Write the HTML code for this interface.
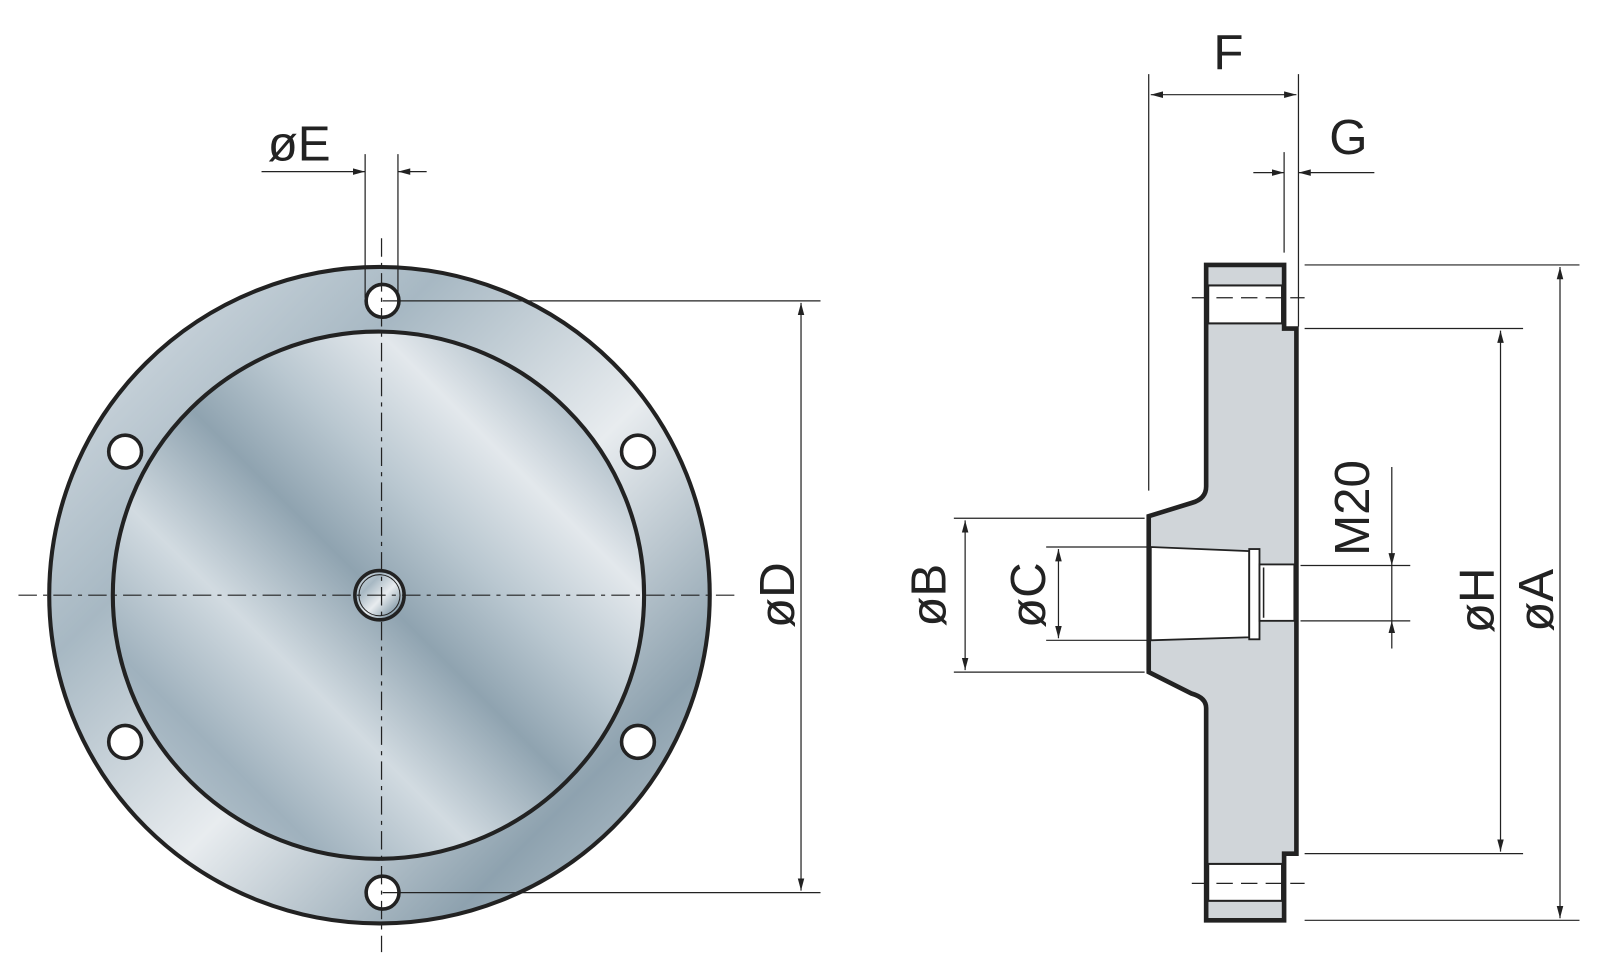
<!DOCTYPE html>
<html><head><meta charset="utf-8"><style>html,body{margin:0;padding:0;background:#fff}svg{display:block}</style></head>
<body>
<svg width="1600" height="975" viewBox="0 0 1560 950" xmlns="http://www.w3.org/2000/svg" font-family="Liberation Sans, sans-serif">
<defs>
<linearGradient id="g" x1="0" y1="1" x2="1" y2="0">
<stop offset="0" stop-color="#c9d4dc"/><stop offset="0.2" stop-color="#9fb1bd"/><stop offset="0.35" stop-color="#d2dbe1"/>
<stop offset="0.5" stop-color="#8fa3b0"/><stop offset="0.62" stop-color="#b9c7d0"/><stop offset="0.75" stop-color="#e3e8ec"/>
<stop offset="0.88" stop-color="#a9b9c4"/><stop offset="1" stop-color="#d8e0e5"/></linearGradient>
<linearGradient id="g2" x1="0" y1="0" x2="1" y2="1">
<stop offset="0" stop-color="#dfe5ea"/><stop offset="0.3" stop-color="#a7b8c3"/><stop offset="0.55" stop-color="#e8ecef"/><stop offset="0.8" stop-color="#8ea2af"/><stop offset="1" stop-color="#c6d1d9"/></linearGradient>
<marker id="ar" viewBox="0 0 12 10" refX="12" refY="5" markerWidth="12" markerHeight="10" markerUnits="userSpaceOnUse" orient="auto-start-reverse"><path d="M0,1.8 L12,5 L0,8.2z" fill="#222"/></marker>
</defs>
<g stroke="#222" fill="none">
<ellipse cx="370" cy="580" rx="322" ry="320" fill="url(#g2)" stroke-width="4"/>
<ellipse cx="369" cy="580" rx="259" ry="257" fill="url(#g)" stroke-width="4"/>
<g fill="#fff" stroke-width="3.5">
<circle cx="373" cy="293" r="16"/><circle cx="122" cy="440" r="16"/><circle cx="622" cy="440" r="16"/>
<circle cx="122" cy="723" r="16"/><circle cx="622" cy="723" r="16"/><circle cx="373" cy="870" r="16"/></g>
<circle cx="370" cy="580" r="24" fill="url(#g2)" stroke-width="3.5"/>
<circle cx="370" cy="580" r="20" stroke-width="1"/>
<g stroke-width="1.2" stroke-dasharray="18,6,4,6">
<line x1="18" y1="580" x2="718" y2="580"/><line x1="372" y1="232" x2="372" y2="928"/></g>
<g stroke-width="1.2">
<line x1="373" y1="293" x2="800" y2="293"/><line x1="373" y1="870" x2="800" y2="870"/>
<line x1="781" y1="295" x2="781" y2="868" marker-start="url(#ar)" marker-end="url(#ar)"/>
<line x1="356" y1="150" x2="356" y2="290"/><line x1="388" y1="150" x2="388" y2="290"/>
<line x1="255" y1="167" x2="356" y2="167" marker-end="url(#ar)"/><line x1="416" y1="167" x2="388" y2="167" marker-end="url(#ar)"/>
</g>
<path d="M1176,258 H1252 V320 H1264 V832 H1252 V897 H1176 V690 Q1176,680 1162,676 L1120,655 V503 L1162,490 Q1176,486 1176,474 Z" fill="#d0d5d9" stroke-width="4.5"/>
<rect x="1178" y="278" width="72" height="37" fill="#fff" stroke-width="2"/>
<rect x="1178" y="842" width="72" height="36" fill="#fff" stroke-width="2"/>
<path d="M1122,533 L1218,537 V621 L1122,624 Z" fill="#fff" stroke-width="1.8"/>
<rect x="1218" y="535" width="10" height="88" fill="#fff" stroke-width="1.8"/>
<rect x="1228" y="550" width="34" height="55" fill="#fff" stroke-width="1.8"/>
<line x1="1232" y1="553" x2="1232" y2="602" stroke-width="1.5"/>
<g stroke-width="1.2" stroke-dasharray="16,8">
<line x1="1162" y1="290" x2="1272" y2="290"/><line x1="1162" y1="861" x2="1272" y2="861"/></g>
<g stroke-width="1.2">
<line x1="1120" y1="72" x2="1120" y2="478"/><line x1="1266" y1="72" x2="1266" y2="318"/>
<line x1="1122" y1="92" x2="1264" y2="92" marker-start="url(#ar)" marker-end="url(#ar)"/>
<line x1="1252" y1="148" x2="1252" y2="246"/>
<line x1="1222" y1="168" x2="1252" y2="168" marker-end="url(#ar)"/><line x1="1340" y1="168" x2="1266" y2="168" marker-end="url(#ar)"/>
<line x1="1272" y1="258" x2="1540" y2="258"/><line x1="1272" y1="897" x2="1540" y2="897"/>
<line x1="1521" y1="260" x2="1521" y2="895" marker-start="url(#ar)" marker-end="url(#ar)"/>
<line x1="1272" y1="320" x2="1485" y2="320"/><line x1="1272" y1="832" x2="1485" y2="832"/>
<line x1="1463" y1="322" x2="1463" y2="830" marker-start="url(#ar)" marker-end="url(#ar)"/>
<line x1="1268" y1="551" x2="1375" y2="551"/><line x1="1268" y1="605" x2="1375" y2="605"/>
<line x1="1357" y1="455" x2="1357" y2="551" marker-end="url(#ar)"/><line x1="1357" y1="632" x2="1357" y2="605" marker-end="url(#ar)"/>
<line x1="1357" y1="551" x2="1357" y2="605"/>
<line x1="930" y1="505" x2="1116" y2="505"/><line x1="930" y1="655" x2="1116" y2="655"/>
<line x1="941" y1="507" x2="941" y2="653" marker-start="url(#ar)" marker-end="url(#ar)"/>
<line x1="1020" y1="533" x2="1118" y2="533"/><line x1="1020" y1="624" x2="1118" y2="624"/>
<line x1="1032" y1="535" x2="1032" y2="622" marker-start="url(#ar)" marker-end="url(#ar)"/>
</g>
</g>
<g fill="#222" font-size="48">
<text x="261" y="156">øE</text>
<text x="1183" y="67">F</text>
<text x="1296" y="150">G</text>
<text transform="translate(774,580) rotate(-90)" text-anchor="middle">øD</text>
<text transform="translate(922,580) rotate(-90)" text-anchor="middle">øB</text>
<text transform="translate(1019,580) rotate(-90)" text-anchor="middle">øC</text>
<text transform="translate(1335,495) rotate(-90)" text-anchor="middle">M20</text>
<text transform="translate(1456,585) rotate(-90)" text-anchor="middle">øH</text>
<text transform="translate(1514,585) rotate(-90)" text-anchor="middle">øA</text>
</g>
</svg>
</body></html>
